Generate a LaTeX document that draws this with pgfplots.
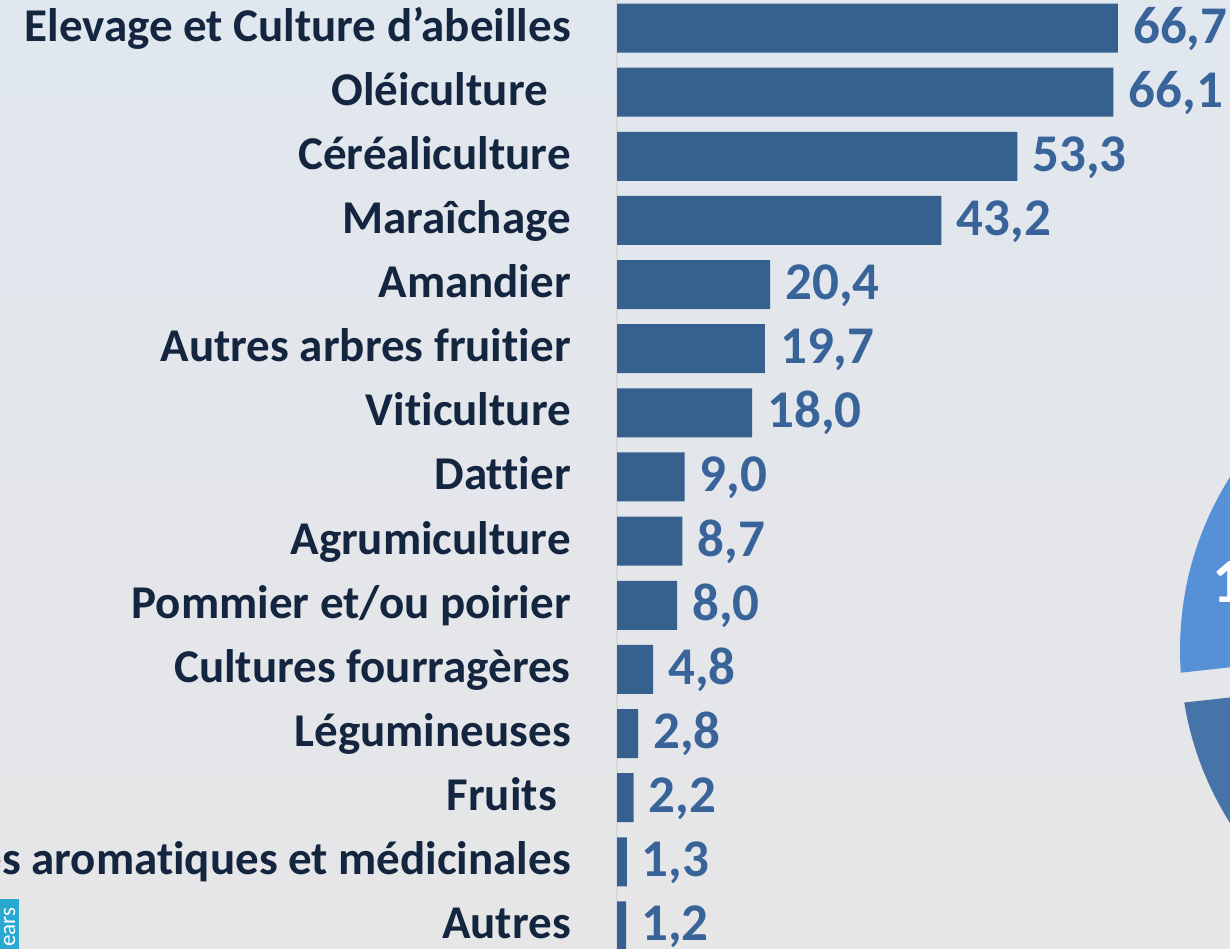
\documentclass[border=0pt]{standalone}
\usepackage{pgfplots}
\pgfplotsset{compat=1.18}
\usepackage{fontspec}
\setmainfont{Carlito}[Ligatures={NoCommon,NoRequired,NoContextual}]
\definecolor{barblue}{HTML}{36618F}
\definecolor{valblue}{HTML}{38649A}
\definecolor{labnavy}{HTML}{13253F}
\definecolor{bgtop}{HTML}{E1E7EF}
\definecolor{bgbot}{HTML}{E6E6E7}
\definecolor{pielight}{HTML}{5690D6}
\definecolor{piedark}{HTML}{4673A8}
\definecolor{logoteal}{HTML}{29A8D0}
\pgfplotstableread{
i v lab
0 66.7 66,7
1 66.1 66,1
2 53.3 53,3
3 43.2 43,2
4 20.4 20,4
5 19.7 19,7
6 18.0 18,0
7 9.0 9,0
8 8.7 8,7
9 8.0 8,0
10 4.8 4,8
11 2.8 2,8
12 2.2 2,2
13 1.3 1,3
14 1.2 1,2
}\datatable
\begin{document}
\begin{tikzpicture}[x=1pt,y=1pt]
\begin{scope}
\clip (0,0) rectangle (1230,949);
\shade[top color=bgtop, bottom color=bgbot] (0,0) rectangle (1230,949);
% decorative pie fragment
\begin{scope}
\clip (1504,299) circle (324);
\fill[pielight] (1100,267.4) -- (1600,322.4) -- (1600,700) -- (1100,700) -- cycle;
\fill[piedark] (1100,237.2) -- (1600,292.2) -- (1600,-100) -- (1100,-100) -- cycle;
\end{scope}
\node[anchor=base west, inner sep=0pt, text=white, font=\fontsize{63}{70}\selectfont\bfseries] at (1212,346) {1};
% logo fragment
\fill[logoteal] (0,0) rectangle (19,50);
\node[rotate=90, anchor=base west, inner sep=0pt, text=white, font=\fontsize{23}{26}\selectfont] at (15,2) {ears};
\begin{axis}[
  at={(617pt,0pt)}, anchor=south west,
  scale only axis, width=613pt, height=949pt,
  xbar, bar width=49pt,
  xmin=0, xmax=81.62,
  ymin=-0.4366, ymax=14.3594,
  y dir=reverse,
  hide x axis,
  axis y line*=left,
  y axis line style={draw=black!15, line width=1.5pt, -},
  ytick={0,...,14},
  yticklabels={{Elevage et Culture d’abeilles},{Oléiculture\hspace*{23pt}},{Céréaliculture},{Maraîchage},{Amandier},{Autres arbres fruitier},{Viticulture},{Dattier},{Agrumiculture},{Pommier et/ou poirier},{Cultures fourragères},{Légumineuses},{Fruits\hspace*{14pt}},{Plantes aromatiques et médicinales},{Autres}},
  major tick length=0pt,
  yticklabel style={font=\fontsize{47}{56}\selectfont\bfseries, text=labnavy, anchor=base east, inner sep=0pt, xshift=-46pt, yshift=-13pt},
  clip=false,
]
\addplot[fill=barblue, draw=none, bar shift=0pt,
  nodes near coords, point meta=explicit symbolic,
  every node near coord/.append style={anchor=base west, inner sep=0pt, xshift=15pt, yshift=-15pt, font=\fontsize{53}{60}\selectfont\bfseries, text=valblue}]
  table[x=v, y=i, meta=lab] {\datatable};
\end{axis}
\end{scope}
\pgfresetboundingbox
\useasboundingbox (0,0) rectangle (1230,949);
\end{tikzpicture}
\end{document}
